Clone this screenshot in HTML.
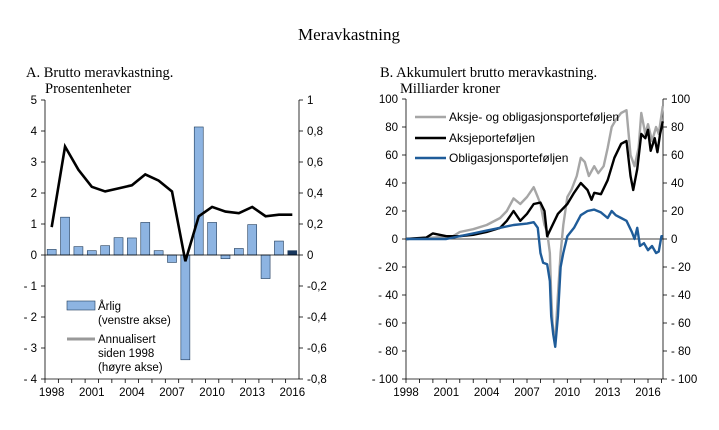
<!DOCTYPE html>
<html><head><meta charset="utf-8"><style>
body{margin:0;background:#fff}
svg text{font-family:"Liberation Sans",sans-serif;font-size:11.5px;fill:#000}
.serif{font-family:"Liberation Serif",serif}
</style></head><body>
<svg id="c" width="719" height="425" viewBox="0 0 719 425" xmlns="http://www.w3.org/2000/svg">
<text class="serif" x="349" y="40" text-anchor="middle" style="font-size:17px">Meravkastning</text>
<text class="serif" x="26" y="77" style="font-size:14.5px">A.  Brutto meravkastning.</text>
<text class="serif" x="45" y="93" style="font-size:14.5px">Prosentenheter</text>
<text class="serif" x="380" y="77" style="font-size:14.5px">B.  Akkumulert brutto meravkastning.</text>
<text class="serif" x="400" y="93" style="font-size:14.5px">Milliarder kroner</text>
<g id="A"></g>
<g id="B"></g>
</svg>
<script>
const yearsA=[1998,1999,2000,2001,2002,2003,2004,2005,2006,2007,2008,2009,2010,2011,2012,2013,2014,2015,2016];
const annualVals=[0.18,1.22,0.27,0.14,0.3,0.56,0.55,1.05,0.14,-0.24,-3.38,4.13,1.05,-0.12,0.21,0.98,-0.76,0.45,0.14];
const cumAnnualized=[0.18,0.70,0.55,0.44,0.41,0.43,0.45,0.52,0.48,0.41,-0.04,0.25,0.31,0.28,0.27,0.31,0.25,0.26,0.26];
const leftTicksA=[5,4,3,2,1,0,-1,-2,-3,-4];
const rightTicksA=["1","0,8","0,6","0,4","0,2","0","-0,2","-0,4","-0,6","-0,8"];
const xLabelsA=[1998,2001,2004,2007,2010,2013,2016];

const totDates=[1998,2000,2001.5,2002,2003,2004,2005,2005.5,2006,2006.5,2007,2007.5,2007.8,2008,2008.3,2008.5,2008.7,2008.8,2008.9,2009.0,2009.1,2009.3,2009.5,2009.7,2010,2010.3,2010.7,2011,2011.3,2011.6,2012,2012.3,2012.7,2013,2013.3,2013.6,2014,2014.4,2014.7,2015,2015.3,2015.5,2015.8,2016,2016.3,2016.6,2016.8,2017.1];
const totVals=[0,1,2,5,7,10,15,20,29,25,30,37,30,25,10,5,-10,-40,-60,-70,-72,-40,-10,10,30,35,45,58,55,45,52,47,52,65,80,85,90,92,60,52,65,90,75,82,70,80,75,95];
const eqDates=[1998,1999.5,2000,2000.5,2001,2002,2003,2004,2005,2005.5,2006,2006.5,2007,2007.5,2008,2008.3,2008.5,2008.8,2009.3,2010,2010.5,2011,2011.5,2011.8,2012,2012.5,2013,2013.5,2014,2014.4,2014.7,2014.9,2015.2,2015.5,2015.8,2016,2016.2,2016.5,2016.7,2016.9,2017.1];
const eqVals=[0,1,4,3,2,2,3,5,8,13,20,13,18,25,26,20,2,8,18,25,33,40,35,28,33,32,42,58,68,70,45,35,50,75,72,78,63,72,62,75,84];
const bondDates=[1998,2001,2002,2003,2004,2005,2006,2007,2007.5,2007.8,2008,2008.2,2008.5,2008.7,2008.8,2008.95,2009.1,2009.3,2009.5,2009.7,2010,2010.5,2011,2011.5,2012,2012.5,2013,2013.3,2013.6,2014,2014.4,2014.8,2015,2015.2,2015.4,2015.7,2016,2016.3,2016.6,2016.8,2017.0,2017.1];
const bondVals=[0,0,2,4,6,8,10,11,12,8,-10,-17,-18,-30,-55,-68,-77,-55,-20,-10,2,8,17,20,21,19,15,20,17,15,13,5,0,8,-5,-3,-8,-5,-10,-9,2,2];
const ticksB=[100,80,60,40,20,0,-20,-40,-60,-80,-100];
const xLabelsB=[1998,2001,2004,2007,2010,2013,2016];

const NS="http://www.w3.org/2000/svg";
function mk(parent,tag,attrs,text){const e=document.createElementNS(NS,tag);for(const k in attrs)e.setAttribute(k,attrs[k]);if(text!==undefined)e.textContent=text;parent.appendChild(e);return e;}
function lbl(v){return v<0?"- "+Math.abs(v):String(v);}

// Panel A
const A=document.getElementById('A');
const ax0=45,ax1=299,ayT=100,ayB=379;
const yL=v=>ayT+(5-v)/9*(ayB-ayT);
const yR=v=>ayT+(1-v)/1.8*(ayB-ayT);
const slot=(ax1-ax0)/yearsA.length;
const xA=i=>ax0+slot*(i+0.5);
annualVals.forEach((v,i)=>{
 const r=mk(A,'rect',{x:xA(i)-4.5,y:Math.min(yL(v),yL(0)),width:9,height:Math.abs(yL(v)-yL(0)),fill:i===annualVals.length-1?'#17375e':'#8db4e2',stroke:'#1f3b5a','stroke-width':0.6});
 
 
});
mk(A,'line',{x1:ax0,x2:ax1,y1:yL(0),y2:yL(0),stroke:'#000','stroke-width':0.8});
mk(A,'line',{x1:ax0,x2:ax0,y1:ayT,y2:ayB,stroke:'#000','stroke-width':0.8});
mk(A,'line',{x1:ax1,x2:ax1,y1:ayT,y2:ayB,stroke:'#000','stroke-width':0.8});
mk(A,'line',{x1:ax0,x2:ax1,y1:ayB,y2:ayB,stroke:'#000','stroke-width':0.8});
leftTicksA.forEach(v=>{const y=yL(v);mk(A,'line',{x1:ax0-4,x2:ax0,y1:y,y2:y,stroke:'#000','stroke-width':0.8});
 const t=mk(A,'text',{x:ax0-8,y:y+4,'text-anchor':'end'},lbl(v));});
rightTicksA.forEach((s,i)=>{const y=ayT+i*(ayB-ayT)/9;mk(A,'line',{x1:ax1,x2:ax1+4,y1:y,y2:y,stroke:'#000','stroke-width':0.8});
 const t=mk(A,'text',{x:ax1+8,y:y+4},s);});
yearsA.forEach((yr,i)=>{const x=ax0+slot*i;mk(A,'line',{x1:x,x2:x,y1:ayB,y2:ayB+4,stroke:'#000','stroke-width':0.8});});
xLabelsA.forEach(yr=>{const i=yearsA.indexOf(yr);const t=mk(A,'text',{x:xA(i),y:ayB+17,'text-anchor':'middle'},yr);});
const la=mk(A,'polyline',{points:cumAnnualized.map((v,i)=>xA(i)+','+yR(v)).join(' '),fill:'none',stroke:'#000','stroke-width':2.6});

// legend A
mk(A,'rect',{x:67,y:301,width:28,height:9,fill:'#8db4e2',stroke:'#1f3b5a','stroke-width':0.6,});
mk(A,'text',{x:98,y:310,},'Årlig');
mk(A,'text',{x:98,y:324},'(venstre akse)');
mk(A,'line',{x1:67,x2:95,y1:339,y2:339,stroke:'#999','stroke-width':3,});
mk(A,'text',{x:98,y:343,},'Annualisert');
mk(A,'text',{x:98,y:357},'siden 1998');
mk(A,'text',{x:98,y:371},'(høyre akse)');

// Panel B
const B=document.getElementById('B');
const bx0=406,bx1=663,byT=99,byB=379;
const xB=d=>bx0+(d-1998)*(648-406)/18;
const yB=v=>byT+(100-v)/200*(byB-byT);
mk(B,'line',{x1:bx0,x2:bx1,y1:yB(0),y2:yB(0),stroke:'#000','stroke-width':0.8});
mk(B,'line',{x1:bx0,x2:bx0,y1:byT,y2:byB,stroke:'#000','stroke-width':0.8});
mk(B,'line',{x1:bx1,x2:bx1,y1:byT,y2:byB,stroke:'#000','stroke-width':0.8});
mk(B,'line',{x1:bx0,x2:bx1,y1:byB,y2:byB,stroke:'#000','stroke-width':0.8});
ticksB.forEach(v=>{const y=yB(v);
 mk(B,'line',{x1:bx0-4,x2:bx0,y1:y,y2:y,stroke:'#000','stroke-width':0.8});
 mk(B,'line',{x1:bx1,x2:bx1+4,y1:y,y2:y,stroke:'#000','stroke-width':0.8});
 const t=mk(B,'text',{x:bx0-8,y:y+4,'text-anchor':'end'},lbl(v));
 const t2=mk(B,'text',{x:bx1+8,y:y+4},lbl(v));});
for(let y=1998;y<=2017;y++){const x=xB(y);if(x<=bx1)mk(B,'line',{x1:x,x2:x,y1:byB,y2:byB+4,stroke:'#000','stroke-width':0.8});}
xLabelsB.forEach(yr=>{const t=mk(B,'text',{x:xB(yr),y:byB+17,'text-anchor':'middle'},yr);});
function series(d,v,col,name){const p=mk(B,'polyline',{points:d.map((x,i)=>xB(x)+','+yB(v[i])).join(' '),fill:'none',stroke:col,'stroke-width':2.4,'stroke-linejoin':'round'});
 }
series(totDates,totVals,'#a6a6a6','total-portfolio-line');
series(eqDates,eqVals,'#000','equity-portfolio-line');
series(bondDates,bondVals,'#1f5c99','bond-portfolio-line');
[['#a6a6a6','Aksje- og obligasjonsporteføljen',121],['#000','Aksjeporteføljen',142],['#1f5c99','Obligasjonsporteføljen',162]].forEach((e,i)=>{
 mk(B,'line',{x1:415,x2:446,y1:e[2]-4,y2:e[2]-4,stroke:e[0],'stroke-width':2.6});
 const t=mk(B,'text',{x:449,y:e[2],style:'font-size:12px'},e[1]);
});
</script>
</body></html>
